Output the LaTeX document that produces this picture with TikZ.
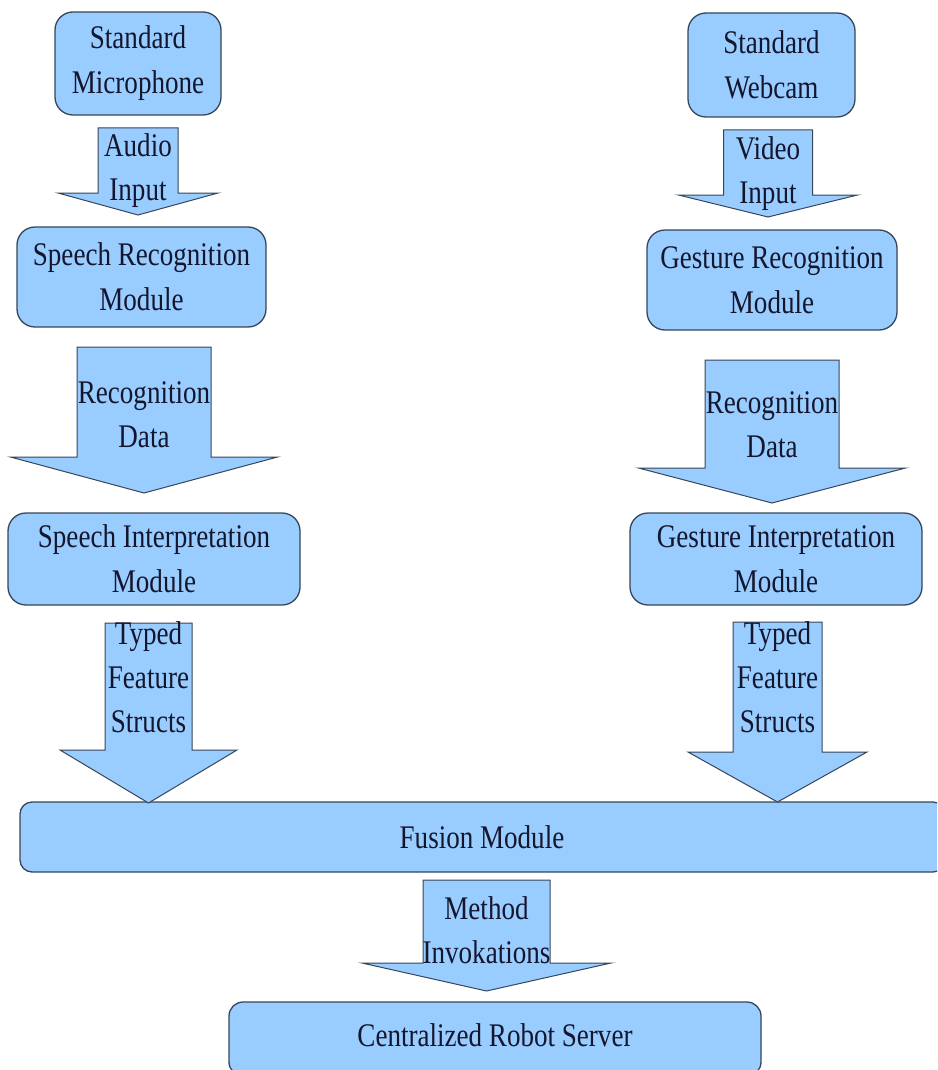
\documentclass[tikz,border=0pt]{standalone}
\usepackage{fontspec}
\newfontfamily\diagfont{Liberation Serif}[FakeStretch=0.82]
\definecolor{boxfill}{RGB}{153,204,255}
\definecolor{boxline}{RGB}{55,70,88}
\definecolor{inkcol}{RGB}{20,22,45}
\begin{document}
\begin{tikzpicture}[x=1pt,y=-1pt,
  module/.style={draw=boxline,line width=1.3pt,fill=boxfill,rounded corners=18pt,
    inner sep=0pt,align=center,text=inkcol,font=\diagfont\fontsize{33}{45}\selectfont},
  flowlabel/.style={inner sep=0pt,align=center,text=inkcol,font=\diagfont\fontsize{33}{44}\selectfont},
  flowbody/.style={draw=boxline,line width=1pt,fill=boxfill,line join=miter}]
\useasboundingbox (0,0) rectangle (937,1070);
\clip (0,0) rectangle (937,1070);
% block arrow: centre x, top y, shaft half width, head y, wing half width, tip y
\newcommand\blockarrow[6]{%
  \draw[flowbody] ({#1-#3},#2) -- ({#1+#3},#2) -- ({#1+#3},#4) -- ({#1+#5},#4)
    -- (#1,#6) -- ({#1-#5},#4) -- ({#1-#3},#4) -- cycle;}

% modules
\node[module,minimum width=166pt,minimum height=103pt] (mic) at (138,63.5) {Standard\\Microphone};
\node[module,minimum width=167pt,minimum height=104pt] (cam) at (771.5,65) {Standard\\Webcam};
\node[module,minimum width=249pt,minimum height=100pt] (srec) at (141.5,277) {Speech Recognition\\Module};
\node[module,minimum width=250pt,minimum height=100pt] (grec) at (772,280) {Gesture Recognition\\Module};
\node[module,minimum width=292pt,minimum height=92pt] (sint) at (154,559) {Speech Interpretation\\Module};
\node[module,minimum width=292pt,minimum height=92pt] (gint) at (776,559) {Gesture Interpretation\\Module};
\node[module,rounded corners=12pt,minimum width=925pt,minimum height=70pt] (fusion) at (482.5,837) {};
\node[flowlabel] (fusiontext) at (482,837) {Fusion Module};
\node[module,rounded corners=14pt,minimum width=532pt,minimum height=74pt] (server) at (495,1039) {};
\node[flowlabel] (servertext) at (495,1035) {Centralized Robot Server};

% data flow arrows
\blockarrow{138}{128}{40}{193}{80}{215}
\node[flowlabel] (audio) at (138,171) {Audio\\Input};
\blockarrow{768}{130}{44.5}{195}{89.5}{217}
\node[flowlabel] (video) at (768,174) {Video\\Input};
\blockarrow{144}{347}{67}{457}{133.5}{493}
\node[flowlabel] (srdata) at (144,415) {Recognition\\Data};
\blockarrow{772}{360}{67}{468}{133.5}{503}
\node[flowlabel] (grdata) at (772,425) {Recognition\\Data};
\blockarrow{148.5}{623}{43.5}{750}{88.5}{803}
\node[flowlabel] (styped) at (148.5,677) {Typed\\Feature\\Structs};
\blockarrow{777.5}{622}{44.5}{752}{89.5}{802}
\node[flowlabel] (gtyped) at (777.5,677) {Typed\\Feature\\Structs};
\blockarrow{486.5}{880}{63.5}{963}{124.5}{991}
\node[flowlabel] (method) at (486.5,930) {Method\\Invokations};
\end{tikzpicture}
\end{document}
